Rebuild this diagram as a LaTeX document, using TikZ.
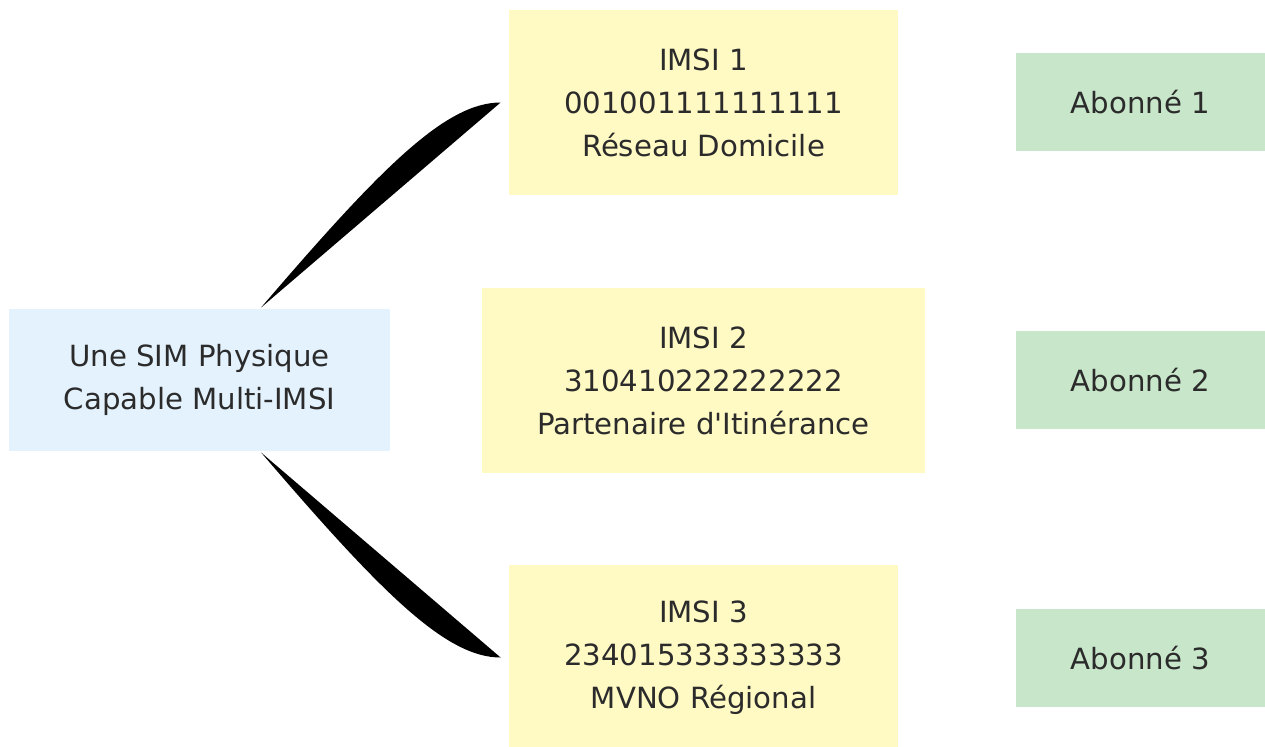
\documentclass[tikz,border=0pt]{standalone}
\usepackage{fontspec}
\newfontfamily\diagfont{DejaVu Sans}
\usetikzlibrary{calc}
\definecolor{simblue}{HTML}{E3F2FD}
\definecolor{imsiyellow}{HTML}{FFF9C4}
\definecolor{subgreen}{HTML}{C8E6C9}
\definecolor{labelgray}{HTML}{2B2B2B}

\begin{document}
\begin{tikzpicture}[x=0.5pt, y=-0.5pt,
    box/.style={inner sep=0pt, align=center, text=labelgray,
      font=\diagfont\fontsize{14.6}{21.5}\selectfont},
    simbox/.style={box, fill=simblue, minimum width=190.5pt, minimum height=71pt},
    imsibox/.style={box, fill=imsiyellow, minimum width=194.5pt, minimum height=92.5pt},
    subbox/.style={box, fill=subgreen, minimum width=124.5pt, minimum height=49pt}]
  \useasboundingbox (0,0) rectangle (1265,746);
  % SIM and its profiles
  \node[simbox] (sim) at (199.5,380) {Une SIM Physique\\Capable Multi-IMSI};
  \node[imsibox] (imsi1) at (703.5,102.5) {IMSI 1\\001001111111111\\Réseau Domicile};
  \node[imsibox, minimum width=221.5pt] (imsi2) at (703.5,380.5) {IMSI 2\\310410222222222\\Partenaire d'Itinérance};
  \node[imsibox] (imsi3) at (703.5,657.5) {IMSI 3\\234015333333333\\MVNO Régional};
  % subscribers
  \node[subbox] (ab1) at (1140.5,102) {Abonné 1};
  \node[subbox] (ab2) at (1140.5,380) {Abonné 2};
  \node[subbox] (ab3) at (1140.5,658) {Abonné 3};
  % links
  \fill ($(sim.north)+(61.5,-1)$) .. controls +(120,-140) and +(-55,0) .. ($(imsi1.west)+(-8,0)$) -- cycle;
  \fill ($(sim.south)+(61.5,1)$) .. controls +(120,140) and +(-55,0) .. ($(imsi3.west)+(-8,0)$) -- cycle;
\end{tikzpicture}
\end{document}
